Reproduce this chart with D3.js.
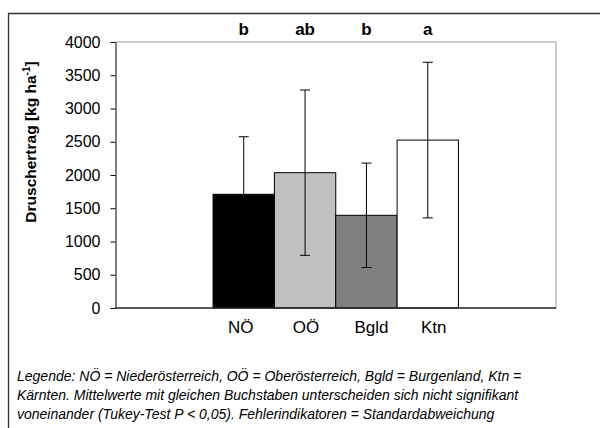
<!DOCTYPE html>
<html>
<head>
<meta charset="utf-8">
<script src="https://cdn.jsdelivr.net/npm/d3@7"></script>
<style>
  body { margin: 0; background: #fff; }
  svg text { font-family: "Liberation Sans", Arial, sans-serif; }
</style>
</head>
<body>
<div class="viz"></div>
<script>
const width = 600
const height = 428

// data
const regions = ['NÖ', 'OÖ', 'Bgld', 'Ktn']
const means = [1710, 2035, 1394, 2525]
const sds = [865, 1243, 785, 1170]
const letters = ['b', 'ab', 'b', 'a']
const yTicks = [0, 500, 1000, 1500, 2000, 2500, 3000, 3500, 4000]
const fills = ['#000000', '#c0c0c0', '#808080', '#ffffff']
const labelShift = [-3, 1, 5, 6]

const caption = [
  'Legende: NÖ = Niederösterreich, OÖ = Oberösterreich, Bgld = Burgenland, Ktn =',
  'Kärnten. Mittelwerte mit gleichen Buchstaben unterscheiden sich nicht signifikant',
  'voneinander (Tukey-Test P < 0,05). Fehlerindikatoren = Standardabweichung'
]

const plot = {left: 115.5, right: 556, top: 42, bottom: 308}

const svg = d3.select('.viz').append('svg')
  .attr('width', width)
  .attr('height', height)

// outer frame (cut off at right and bottom)
svg.append('path')
  .attr('d', `M8.5,${height + 2} V13.5 H${width + 2}`)
  .attr('fill', 'none')
  .attr('stroke', '#333')
  .attr('stroke-width', 1.3)

const x = d3.scaleBand()
  .domain(regions)
  .range([plot.left, plot.right])
  .paddingInner(0)
  .paddingOuter(1.59)

const y = d3.scaleLinear()
  .domain([0, 4000])
  .range([plot.bottom, plot.top])

// plot area border: top and right gray
svg.append('path')
  .attr('d', `M${plot.left},${plot.top} H${plot.right} V${plot.bottom}`)
  .attr('fill', 'none')
  .attr('stroke', '#999')
  .attr('stroke-width', 1)

// bars
svg.append('g')
  .selectAll('rect')
  .data(regions)
  .join('rect')
    .attr('x', d => x(d))
    .attr('y', (d, i) => y(means[i]))
    .attr('width', x.bandwidth())
    .attr('height', (d, i) => y(0) - y(means[i]))
    .attr('fill', (d, i) => fills[i])
    .attr('stroke', '#000')
    .attr('stroke-width', 1)

// error bars
const err = svg.append('g')
  .attr('stroke', '#000')
  .attr('stroke-width', 1)
  .selectAll('g')
  .data(regions)
  .join('g')
    .attr('transform', d => `translate(${x(d) + x.bandwidth() / 2},0)`)

err.append('line')
  .attr('y1', (d, i) => y(means[i] - sds[i]))
  .attr('y2', (d, i) => y(means[i] + sds[i]))
err.append('line')
  .attr('x1', -5).attr('x2', 5)
  .attr('y1', (d, i) => y(means[i] + sds[i]))
  .attr('y2', (d, i) => y(means[i] + sds[i]))
err.append('line')
  .attr('x1', -5).attr('x2', 5)
  .attr('y1', (d, i) => y(means[i] - sds[i]))
  .attr('y2', (d, i) => y(means[i] - sds[i]))

// y axis
const yAxis = svg.append('g')
  .attr('transform', `translate(${plot.left},0)`)
  .call(d3.axisLeft(y).tickValues(yTicks).tickFormat(d3.format('d'))
    .tickSize(5).tickPadding(10).tickSizeOuter(0))
yAxis.select('.domain').attr('stroke', '#000')
yAxis.selectAll('.tick text')
  .attr('font-size', 16)
  .attr('fill', '#000')

// x baseline
svg.append('line')
  .attr('x1', plot.left).attr('x2', plot.right)
  .attr('y1', y(0)).attr('y2', y(0))
  .attr('stroke', '#222')
  .attr('stroke-width', 1.3)

// category labels
svg.append('g')
  .selectAll('text')
  .data(regions)
  .join('text')
    .attr('x', (d, i) => x(d) + x.bandwidth() / 2 + labelShift[i])
    .attr('y', 333)
    .attr('text-anchor', 'middle')
    .attr('font-size', 17)
    .text(d => d)

// significance letters
svg.append('g')
  .selectAll('text')
  .data(regions)
  .join('text')
    .attr('x', (d, i) => x(d) + x.bandwidth() / 2)
    .attr('y', 35)
    .attr('text-anchor', 'middle')
    .attr('font-size', 17)
    .attr('font-weight', 'bold')
    .text((d, i) => letters[i])

// y axis title
const yt = svg.append('text')
  .attr('transform', 'translate(36,142) rotate(-90)')
  .attr('text-anchor', 'middle')
  .attr('font-size', 15.5)
  .attr('font-weight', 'bold')
yt.append('tspan').text('Druschertrag [kg ha')
yt.append('tspan').attr('font-size', 10).attr('dy', -6).text('-1')
yt.append('tspan').attr('dy', 6).text(']')

// caption
svg.append('g')
  .selectAll('text')
  .data(caption)
  .join('text')
    .attr('x', 17)
    .attr('y', (d, i) => 381 + i * 19)
    .attr('font-size', 14)
    .attr('font-style', 'italic')
    .text(d => d)
</script>
</body>
</html>
